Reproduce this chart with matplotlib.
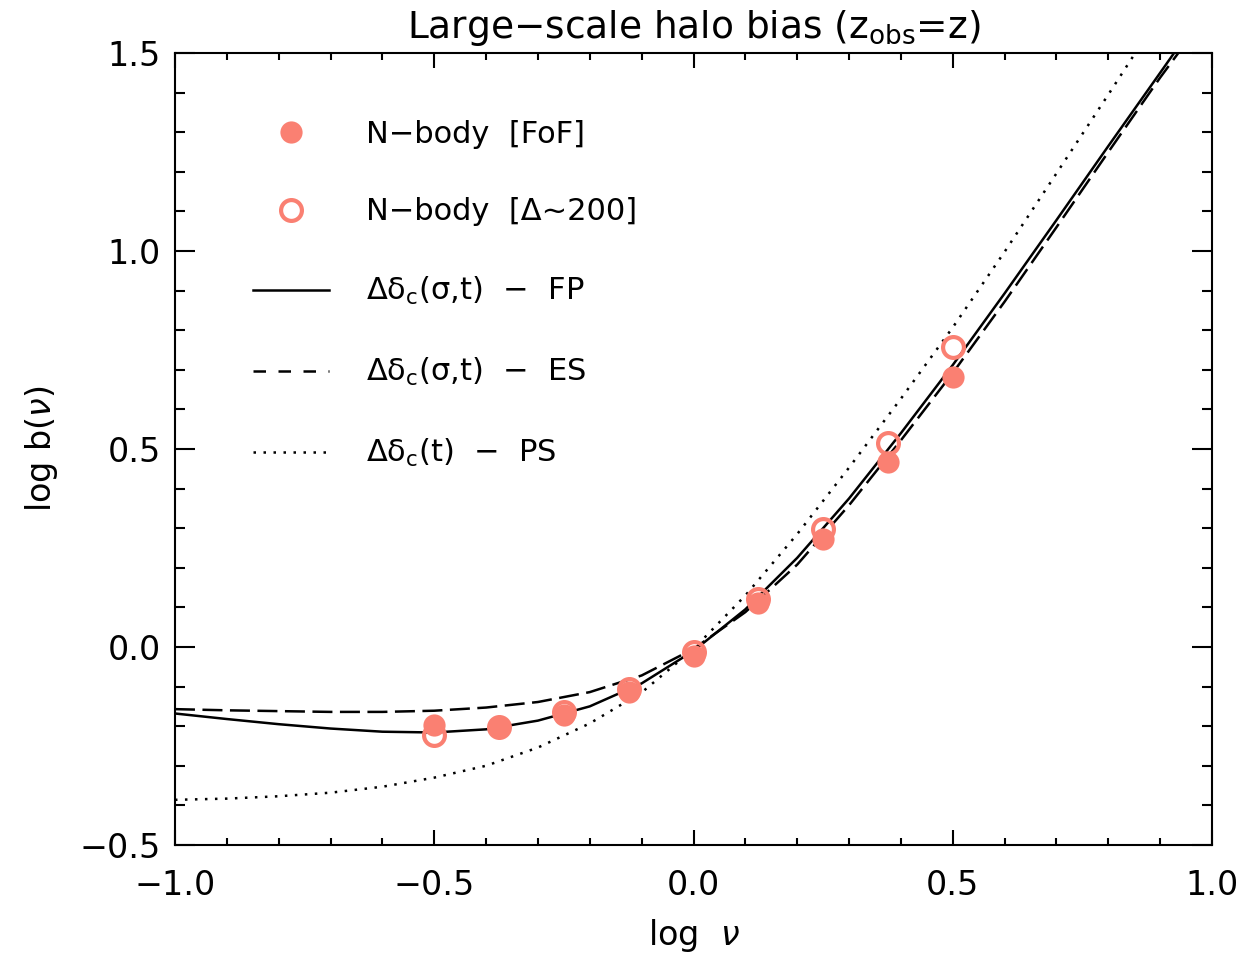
import matplotlib
matplotlib.use("Agg")
import matplotlib.pyplot as plt
from matplotlib.ticker import MultipleLocator
from matplotlib.lines import Line2D

plt.rcParams['font.family'] = ['DejaVu Sans']
plt.rcParams['mathtext.fontset'] = 'dejavusans'

# N-body measurements
nu_pts = [-0.5, -0.375, -0.25, -0.125, 0.0, 0.125, 0.25, 0.375, 0.5]
bias_fof = [-0.196, -0.202, -0.171, -0.114, -0.022, 0.111, 0.273, 0.467, 0.681]
bias_so = [-0.222, -0.203, -0.164, -0.106, -0.013, 0.121, 0.298, 0.514, 0.758]

# model curves
nu_fp = [-1.0, -0.9, -0.8, -0.7, -0.6, -0.5, -0.4, -0.3, -0.2, -0.1,
         0.0, 0.1, 0.2, 0.3, 0.4, 0.5, 0.6, 0.7, 0.8, 0.9, 0.929]
bias_fp = [-0.168, -0.182, -0.195, -0.206, -0.214, -0.216, -0.208, -0.186, -0.150, -0.092,
           -0.010, 0.095, 0.225, 0.375, 0.540, 0.712, 0.893, 1.078, 1.265, 1.450, 1.504]

nu_es = [-1.0, -0.9, -0.8, -0.7, -0.6, -0.5, -0.4, -0.3, -0.2, -0.1,
         0.0, 0.1, 0.2, 0.3, 0.4, 0.5, 0.6, 0.7, 0.8, 0.9, 0.935]
bias_es = [-0.157, -0.160, -0.162, -0.164, -0.164, -0.161, -0.153, -0.139, -0.114, -0.072,
           -0.005, 0.088, 0.208, 0.358, 0.522, 0.692, 0.872, 1.060, 1.250, 1.438, 1.5]

nu_ps = [-1.0, -0.9, -0.8, -0.7, -0.6, -0.5, -0.4, -0.3, -0.2, -0.1,
         0.0, 0.1, 0.2, 0.3, 0.4, 0.5, 0.6, 0.7, 0.8, 0.852]
bias_ps = [-0.386, -0.383, -0.377, -0.368, -0.353, -0.330, -0.300, -0.254, -0.193, -0.115,
           -0.005, 0.130, 0.285, 0.453, 0.627, 0.807, 0.998, 1.196, 1.395, 1.5]

fig = plt.figure(figsize=(12.56, 9.58), dpi=100)
ax = fig.add_axes([0.1393, 0.118, 0.8257, 0.8267])

lw = 1.8
ax.plot(nu_fp, bias_fp, color='k', lw=lw, ls='-', zorder=2)
ax.plot(nu_es, bias_es, color='k', lw=lw, ls=(0, (8, 3)), zorder=2)
ax.plot(nu_ps, bias_ps, color='k', lw=lw, ls=(0, (1, 3)), zorder=2)

ax.plot(nu_pts, bias_fof, 'o', color='salmon', ms=16, mew=0, zorder=3)
ax.plot(nu_pts, bias_so, 'o', mfc='none', mec='salmon', ms=15, mew=3, zorder=4)

ax.set_xlim(-1.0, 1.0)
ax.set_ylim(-0.5, 1.5)
ax.xaxis.set_major_locator(MultipleLocator(0.5))
ax.xaxis.set_minor_locator(MultipleLocator(0.1))
ax.yaxis.set_major_locator(MultipleLocator(0.5))
ax.yaxis.set_minor_locator(MultipleLocator(0.1))
fmt = plt.FuncFormatter(lambda v, p: ('%.1f' % v).replace('-', '\u2212'))
ax.xaxis.set_major_formatter(fmt)
ax.yaxis.set_major_formatter(fmt)
ax.tick_params(axis='both', which='both', direction='in', top=True, right=True,
               labelsize=24, width=1.5)
ax.tick_params(axis='x', which='both', pad=17)
ax.tick_params(axis='y', which='both', pad=10)
ax.tick_params(axis='x', which='major', length=11)
ax.tick_params(axis='x', which='minor', length=5)
ax.tick_params(axis='y', which='major', length=14.5)
ax.tick_params(axis='y', which='minor', length=7)
for s in ax.spines.values():
    s.set_linewidth(1.5)

ax.set_xlabel(r'log  $\nu$', fontsize=24, labelpad=11)
ax.set_ylabel(r'log b($\nu$)', fontsize=24, labelpad=14)
ax.set_title('Large\u2212scale halo bias (z$_\\mathregular{obs}$=z)', fontsize=27, pad=11)

handles = [
    Line2D([], [], ls='none', marker='o', color='salmon', ms=16, mew=0),
    Line2D([], [], ls='none', marker='o', mfc='none', mec='salmon', ms=15, mew=3),
    Line2D([], [], color='k', lw=lw, ls='-'),
    Line2D([], [], color='k', lw=lw, ls=(0, (5, 5))),
    Line2D([], [], color='k', lw=lw, ls=(0, (1, 3))),
]
labels = [
    'N\u2212body  [FoF]',
    'N\u2212body  [\u0394~200]',
    '\u0394\u03b4$_\\mathregular{c}$(\u03c3,t)  \u2212  FP',
    '\u0394\u03b4$_\\mathregular{c}$(\u03c3,t)  \u2212  ES',
    '\u0394\u03b4$_\\mathregular{c}$(t)  \u2212  PS',
]
ax.legend(handles, labels, loc='upper left', bbox_to_anchor=(0.075, 0.916),
          frameon=False, fontsize=22, handlelength=2.5, handletextpad=1.2,
          labelspacing=1.6, borderpad=0, borderaxespad=0)

fig.savefig('out.png', dpi=100)
